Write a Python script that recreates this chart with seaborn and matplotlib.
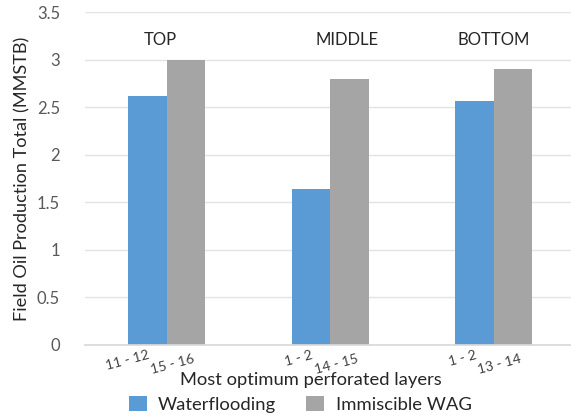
import matplotlib
matplotlib.use("Agg")
import matplotlib.pyplot as plt
import matplotlib.transforms as mtransforms
import seaborn as sns
import pandas as pd

# Data
zones = ["TOP", "MIDDLE", "BOTTOM"]
waterflooding = [2.62, 1.64, 2.57]
immiscible_wag = [3.0, 2.8, 2.9]
wf_layers = ["11 - 12", "1 - 2", "1 - 2"]
wag_layers = ["15 - 16", "14 - 15", "13 - 14"]
series_names = ["Waterflooding", "Immiscible WAG"]
colors = ["#5B9BD5", "#A5A5A5"]
y_ticks = [0, 0.5, 1, 1.5, 2, 2.5, 3, 3.5]
zone_title_shift = [-0.04, 0.10, 0.0]

df = pd.DataFrame({
    "zone": zones * 2,
    "series": [series_names[0]] * 3 + [series_names[1]] * 3,
    "value": waterflooding + immiscible_wag,
})

sns.set_theme(style="white")
plt.rcParams["font.family"] = ["Lato", "DejaVu Sans"]

fig = plt.figure(figsize=(5.71, 4.2), dpi=100)
ax = fig.add_axes([0.149, 0.179, 0.853, 0.792])

sns.barplot(data=df, x="zone", y="value", hue="series", order=zones,
            hue_order=series_names, palette=colors, width=0.47,
            saturation=1, linewidth=0, ax=ax, legend=True)

ax.set_ylim(0, 3.5)
ax.set_xlim(-0.5, 2.48)
ax.set_yticks(y_ticks)
ax.set_yticklabels([f"{t:g}" for t in y_ticks], fontsize=12, color="#595959")
ax.yaxis.grid(True, color="#E3E3E3", linewidth=1)
ax.set_axisbelow(True)
for side in ["top", "right", "left"]:
    ax.spines[side].set_visible(False)
ax.spines["bottom"].set_color("#D9D9D9")
ax.tick_params(axis="both", length=0)
ax.tick_params(axis="y", pad=18)

# one tick label per bar, placed at each bar's center
wf_centers = [p.get_x() + p.get_width() / 2 for p in ax.containers[0]]
wag_centers = [p.get_x() + p.get_width() / 2 for p in ax.containers[1]]
ticks, labels = [], []
for c1, c2, a, b in zip(wf_centers, wag_centers, wf_layers, wag_layers):
    ticks += [c1, c2]
    labels += [a, b]
ax.set_xticks(ticks)
ax.set_xticklabels(labels, rotation=15, ha="right", rotation_mode="anchor",
                   fontsize=10, color="#404040")
ax.tick_params(axis="x", pad=3)
stagger = mtransforms.ScaledTranslation(7 / 100, -4 / 100, fig.dpi_scale_trans)
for k, lab in enumerate(ax.get_xticklabels()):
    if k % 2 == 1:
        lab.set_transform(lab.get_transform() + stagger)

for i, z in enumerate(zones):
    ax.text(i + zone_title_shift[i], 3.21, z, ha="center", va="center",
            fontsize=12, color="#262626")

ax.set_xlabel("Most optimum perforated layers", fontsize=13.2, color="#262626")
ax.xaxis.set_label_coords(0.464, -0.082)
ax.set_ylabel("Field Oil Production Total (MMSTB)", fontsize=13.1,
              color="#262626", labelpad=5)

handles, lbls = ax.get_legend_handles_labels()
ax.legend(handles, lbls, loc="lower center", bbox_to_anchor=(300 / 571, 0.0),
          bbox_transform=fig.transFigure, ncol=2, frameon=False, fontsize=13.3,
          handlelength=1.0, handleheight=0.9, columnspacing=1.6,
          handletextpad=0.6, borderaxespad=0.0)

fig.savefig("out.png", dpi=100)
